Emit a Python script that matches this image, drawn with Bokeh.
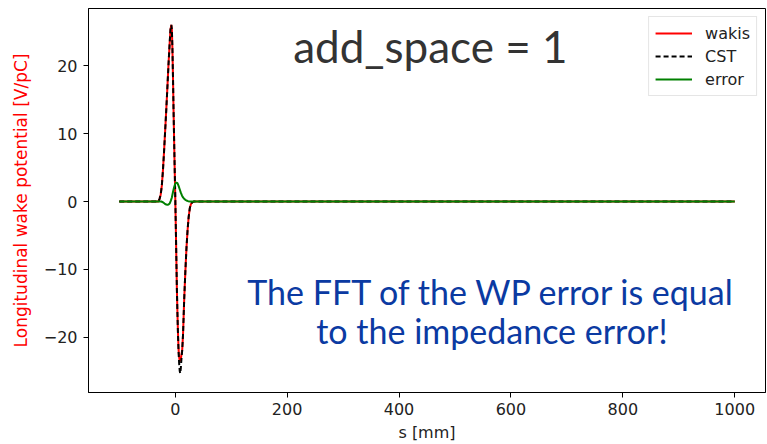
from bokeh.plotting import figure
from bokeh.models import Range1d, FixedTicker, Label
from bokeh.embed import file_html
from bokeh.resources import INLINE

# ---- data ----
s_wake = [-100, -30, -28, -26, -24, -22, -20, -18, -16, -14, -12, -10, -8.5, -7, -6, -5, -4, -3, -2, -1,
          0, 1, 2, 3, 4, 5, 6, 7, 8, 9, 10, 11, 12.5, 14, 16, 18, 20, 22, 24, 26, 28, 30, 33, 1000]
wakis = [0, 0, 0.4, 1.0, 2.3, 4.5, 7.3, 10.4, 13.5, 16.8, 20.2, 23.2, 25.3, 26.0, 25.3, 22.5, 18.3, 13.5, 9.2, 5.0,
         1.0, -3.5, -8.3, -13.0, -16.5, -19.5, -21.8, -22.9, -23.4, -23.5, -23.2, -22.6, -21.8, -19.5, -14.5, -10.5,
         -7.0, -4.3, -2.3, -1.0, -0.4, -0.15, 0, 0]
cst = [0, 0, 0.4, 1.0, 2.3, 4.5, 7.3, 10.4, 13.5, 16.8, 20.2, 23.2, 25.3, 26.0, 25.3, 22.5, 18.3, 13.5, 9.2, 5.0,
       1.0, -3.5, -8.3, -13.0, -16.6, -19.8, -22.2, -23.8, -24.9, -25.3, -24.5, -23.3, -21.9, -19.5, -14.5, -10.5,
       -7.0, -4.3, -2.3, -1.0, -0.4, -0.15, 0, 0]
s_err = [-100, -25, -22, -19, -16, -14, -12, -10, -8, -6, -4, -2, 0, 2, 4, 6, 8, 10, 12, 14, 16, 18, 20, 23, 27, 1000]
err = [0, 0, -0.1, -0.3, -0.45, -0.5, -0.45, -0.3, 0.1, 0.6, 1.4, 2.1, 2.6, 2.8, 2.7, 2.3, 1.8, 1.3, 0.9, 0.6,
       0.4, 0.25, 0.15, 0.05, 0, 0]

x_ticks = [0, 200, 400, 600, 800, 1000]
y_ticks = [-20, -10, 0, 10, 20]
y_tick_labels = ["\u221220", "\u221210", "0", "10", "20"]

title_text = "add_space = 1"
note_lines = ["The FFT of the WP error is equal", "to the impedance error!"]

p = figure(width=767, height=444, output_backend="svg", toolbar_location=None,
           x_range=Range1d(-155, 1055), y_range=Range1d(-28.1, 28.4))
p.min_border_left = 88
p.min_border_right = 2
p.min_border_top = 8
p.min_border_bottom = 52
p.background_fill_color = "white"
p.border_fill_color = "white"
p.outline_line_color = "black"
p.outline_line_width = 1
p.grid.visible = False

p.line(s_wake, wakis, line_color="#ff0000", line_width=2, legend_label="wakis")
p.line(s_wake, cst, line_color="black", line_width=2, line_dash="5 3", legend_label="CST")
p.line(s_err, err, line_color="#008000", line_width=2, legend_label="error")

for ax in (p.xaxis[0], p.yaxis[0]):
    ax.axis_line_color = "black"
    ax.major_tick_line_color = "black"
    ax.major_tick_out = 5
    ax.major_tick_in = 0
    ax.minor_tick_line_color = None
    ax.major_label_text_font = "DejaVu Sans"
    ax.major_label_text_font_size = "16px"
    ax.major_label_text_color = "#222222"
    ax.axis_label_text_font = "DejaVu Sans"
    ax.axis_label_text_font_style = "normal"

p.xaxis.ticker = FixedTicker(ticks=x_ticks)
p.yaxis.ticker = FixedTicker(ticks=y_ticks)
p.yaxis.major_label_overrides = {t: l for t, l in zip(y_ticks, y_tick_labels)}
p.xaxis.axis_label = "s [mm]"
p.xaxis.axis_label_text_color = "#222222"
p.xaxis.axis_label_text_font_size = "16px"
p.xaxis.major_label_standoff = 5
p.xaxis.axis_label_standoff = 5
p.yaxis.axis_label = "Longitudinal wake potential [V/pC]"
p.yaxis.axis_label_text_color = "#ff0000"
p.yaxis.axis_label_text_font_size = "17px"
p.yaxis.major_label_standoff = 6
p.yaxis.axis_label_standoff = 10

lg = p.legend[0]
lg.location = "top_right"
lg.margin = 8
lg.padding = 6
lg.spacing = 3
lg.glyph_width = 37
lg.glyph_height = 20
lg.label_height = 20
lg.label_standoff = 13
lg.label_text_font = "DejaVu Sans"
lg.label_text_font_size = "16px"
lg.label_text_color = "#222222"
lg.border_line_color = "#cccccc"
lg.border_line_width = 1
lg.background_fill_alpha = 0.8

p.add_layout(Label(x=456, y=22.9, text=title_text, text_font="Lato", text_font_size="44px",
                   text_color="#333333", text_align="center", text_baseline="alphabetic"))
p.add_layout(Label(x=566, y=-13.2, text=note_lines[0], text_font="Lato", text_font_size="34px",
                   text_color="#0b3aa2", text_align="center", text_baseline="alphabetic"))
p.add_layout(Label(x=566, y=-19.0, text=note_lines[1], text_font="Lato", text_font_size="34px",
                   text_color="#0b3aa2", text_align="center", text_baseline="alphabetic"))

open("out.html", "w").write(file_html(p, INLINE))
